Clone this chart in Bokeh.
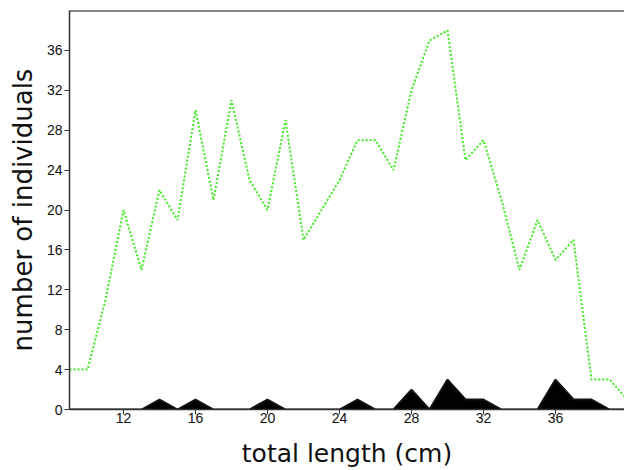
from bokeh.plotting import figure
from bokeh.models import FixedTicker, Range1d, Span, ColumnDataSource
from bokeh.embed import file_html
from bokeh.resources import INLINE

# total length classes (cm)
lengths = list(range(9, 41))
# all individuals (green dotted line)
total_counts = [4, 4, 11, 20, 14, 22, 19, 30, 21, 31, 23, 20, 29, 17, 20, 23,
                27, 27, 24, 32, 37, 38, 25, 27, 21, 14, 19, 15, 17, 3, 3, 1]
# subset (black filled area)
subset_counts = [0, 0, 0, 0, 0, 1, 0, 1, 0, 0, 0, 1, 0, 0, 0, 0,
                 1, 0, 0, 2, 0, 3, 1, 1, 0, 0, 0, 3, 1, 1, 0, 0]
y_ticks = [0, 4, 8, 12, 16, 20, 24, 28, 32, 36]
x_ticks = [12, 16, 20, 24, 28, 32, 36, 40]

src = ColumnDataSource(dict(x=lengths, total=total_counts, sub=subset_counts,
                            zero=[0] * len(lengths)))

p = figure(width=624, height=470, output_backend="svg", toolbar_location=None,
           x_range=Range1d(9, 9 + 555 / 18), y_range=Range1d(0, 40),
           min_border_left=69, min_border_right=0, min_border_top=10,
           min_border_bottom=61)
p.background_fill_color = "white"
p.border_fill_color = "white"
p.outline_line_color = None
p.xgrid.visible = False
p.ygrid.visible = False

p.varea(x="x", y1="zero", y2="sub", source=src, fill_color="black")
p.line(x="x", y="sub", source=src, line_color="#111111", line_width=2)
p.line(x="x", y="total", source=src, line_color="#3dec1f", line_width=2,
       line_dash="2 2")

p.add_layout(Span(location=40, dimension="width", line_color="#111111",
                  line_width=2))

for ax in (p.xaxis[0], p.yaxis[0]):
    ax.axis_line_color = "#333333"
    ax.axis_line_width = 1.5
    ax.major_tick_line_color = "#333333"
    ax.major_tick_in = 0
    ax.major_tick_out = 5
    ax.minor_tick_line_color = None
    ax.major_label_text_font = "Liberation Sans"
    ax.major_label_text_font_size = "14px"
    ax.major_label_text_color = "#111111"
    ax.axis_label_text_font = "DejaVu Sans"
    ax.axis_label_text_font_style = "normal"
    ax.axis_label_text_color = "#111111"

p.xaxis.axis_label_text_font_size = "25px"
p.yaxis.axis_label_text_font_size = "26px"
p.xaxis.ticker = FixedTicker(ticks=x_ticks)
p.yaxis.ticker = FixedTicker(ticks=y_ticks)
p.xaxis.axis_label = "total length (cm)"
p.yaxis.axis_label = "number of individuals"
p.xaxis.major_label_standoff = -2
p.yaxis.major_label_standoff = 2
p.xaxis.axis_label_standoff = 13
p.yaxis.axis_label_standoff = 6

open("out.html", "w").write(file_html(p, INLINE))
